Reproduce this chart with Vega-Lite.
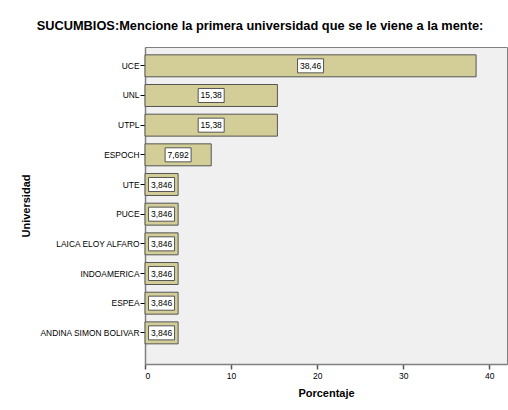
{
  "$schema": "https://vega.github.io/schema/vega-lite/v6.json",
  "width": 362,
  "height": 317,
  "autosize": "none",
  "padding": {"left": 145, "top": 47, "right": 1, "bottom": 46},
  "background": "white",
  "title": {
    "text": "SUCUMBIOS:Mencione la primera universidad que se le viene a la mente:",
    "font": "Liberation Sans",
    "fontSize": 12.8,
    "fontWeight": "bold",
    "color": "#000000",
    "anchor": "middle",
    "frame": "group",
    "dx": -66,
    "offset": 14
  },
  "data": {
    "values": [
      {"universidad": "UCE", "pct": 38.46, "label": "38,46"},
      {"universidad": "UNL", "pct": 15.38, "label": "15,38"},
      {"universidad": "UTPL", "pct": 15.38, "label": "15,38"},
      {"universidad": "ESPOCH", "pct": 7.692, "label": "7,692"},
      {"universidad": "UTE", "pct": 3.846, "label": "3,846"},
      {"universidad": "PUCE", "pct": 3.846, "label": "3,846"},
      {"universidad": "LAICA ELOY ALFARO", "pct": 3.846, "label": "3,846"},
      {"universidad": "INDOAMERICA", "pct": 3.846, "label": "3,846"},
      {"universidad": "ESPEA", "pct": 3.846, "label": "3,846"},
      {"universidad": "ANDINA SIMON BOLIVAR", "pct": 3.846, "label": "3,846"}
    ]
  },
  "transform": [{"calculate": "datum.pct / 2", "as": "mid"}],
  "encoding": {
    "y": {
      "field": "universidad",
      "type": "nominal",
      "sort": null,
      "title": "Universidad",
      "scale": {"paddingInner": 0.26, "paddingOuter": 0.472, "align": 0.28},
      "axis": {
        "domainColor": "#808080",
        "domainWidth": 1.5,
        "tickColor": "#000000",
        "tickSize": 5,
        "tickWidth": 1,
        "labelFont": "Liberation Sans",
        "labelFontSize": 8.4,
        "labelColor": "#000000",
        "labelPadding": 1,
        "titleFont": "Liberation Sans",
        "titleFontSize": 11,
        "titleFontWeight": "bold",
        "titleColor": "#000000",
        "titlePadding": 8
      }
    }
  },
  "layer": [
    {
      "mark": {"type": "bar", "fill": "#d3ce97", "stroke": "#555555", "strokeWidth": 1},
      "encoding": {
        "x": {
          "field": "pct",
          "type": "quantitative",
          "title": "Porcentaje",
          "scale": {"domain": [0, 42.05], "nice": false, "zero": true},
          "axis": {
            "values": [0, 10, 20, 30, 40],
            "grid": false,
            "domainColor": "#808080",
            "domainWidth": 1.5,
            "tickColor": "#555555",
            "tickSize": 5,
            "tickWidth": 1.5,
            "labelFont": "Liberation Sans",
            "labelFontSize": 8.5,
            "labelColor": "#000000",
            "labelPadding": 2,
            "titleFont": "Liberation Sans",
            "titleFontSize": 11,
            "titleFontWeight": "bold",
            "titleColor": "#000000",
            "titlePadding": 8
          }
        }
      }
    },
    {
      "mark": {
        "type": "point",
        "shape": "M-1,-0.54H1V0.54H-1Z",
        "size": 676,
        "filled": true,
        "fill": "#ffffff",
        "stroke": "#555555",
        "strokeWidth": 1,
        "opacity": 1
      },
      "encoding": {"x": {"field": "mid", "type": "quantitative"}}
    },
    {
      "mark": {"type": "text", "font": "Liberation Sans", "fontSize": 8.5, "color": "#000000", "align": "center", "baseline": "middle"},
      "encoding": {
        "x": {"field": "mid", "type": "quantitative"},
        "text": {"field": "label"}
      }
    }
  ],
  "config": {
    "view": {"fill": "#f0f0f0", "stroke": "#808080", "strokeWidth": 1}
  }
}
